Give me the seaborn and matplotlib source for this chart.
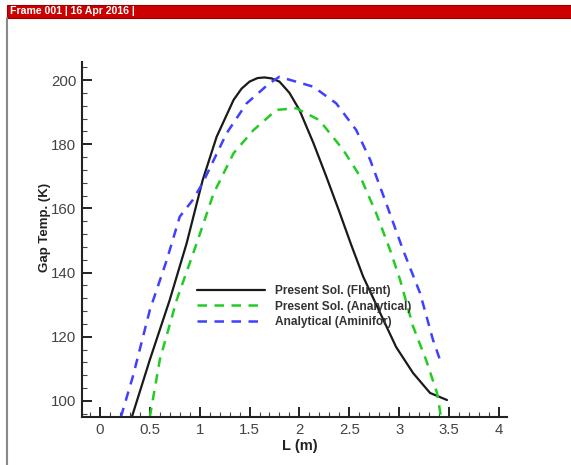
import numpy as np
import pandas as pd
import matplotlib
matplotlib.use("Agg")
import matplotlib.pyplot as plt
import seaborn as sns
from matplotlib.patches import Rectangle
from matplotlib.lines import Line2D

# ==========================================
# Data
# ==========================================
fluent_x = [0.32, 0.50, 0.70, 0.87, 1.03, 1.17, 1.34, 1.42, 1.50, 1.58, 1.65, 1.72,
            1.80, 1.90, 2.00, 2.14, 2.27, 2.40, 2.52, 2.64, 2.81, 2.97, 3.14, 3.31, 3.48]
fluent_y = [95.0, 112.8, 131.5, 149.2, 168.8, 182.3, 193.8, 197.3, 199.5, 200.6, 200.8, 200.5,
            199.5, 196.0, 190.7, 180.4, 169.9, 159.0, 148.6, 138.7, 127.4, 116.8, 108.7, 102.5, 100.3]

analytical_x = [0.50, 0.60, 0.77, 0.97, 1.14, 1.34, 1.54, 1.77, 1.97, 2.20,
                2.44, 2.61, 2.77, 2.91, 3.01, 3.14, 3.27, 3.38, 3.42]
analytical_y = [95.0, 112.8, 131.5, 149.1, 164.7, 177.2, 184.4, 190.7, 191.2, 187.5,
                178.2, 169.9, 158.5, 147.0, 137.7, 123.2, 112.8, 102.5, 95.0]

aminifor_x = [0.21, 0.33, 0.50, 0.67, 0.80, 0.93, 1.03, 1.27, 1.47, 1.70,
              1.80, 2.14, 2.37, 2.57, 2.71, 2.87, 3.04, 3.21, 3.34, 3.41]
aminifor_y = [95.0, 107.6, 128.3, 143.9, 157.4, 162.6, 167.9, 183.4, 192.7, 199.0,
              201.0, 197.9, 192.7, 184.4, 175.1, 161.6, 147.0, 133.6, 119.0, 112.8]

labels = ["Present Sol. (Fluent)", "Present Sol. (Analytical)", "Analytical (Aminifor)"]
x_ticks = [0, 0.5, 1, 1.5, 2, 2.5, 3, 3.5, 4]
x_tick_labels = ["0", "0.5", "1", "1.5", "2", "2.5", "3", "3.5", "4"]
y_ticks = [100, 120, 140, 160, 180, 200]

# ==========================================
# Figure
# ==========================================
sns.set_style("white")
plt.rcParams["font.family"] = ["Liberation Sans", "DejaVu Sans"]

fig = plt.figure(figsize=(5.71, 4.65), dpi=100)
ax = fig.add_axes([0.1436, 0.1032, 0.744, 0.7634])

df_f = pd.DataFrame({"L": fluent_x, "T": fluent_y})
df_a = pd.DataFrame({"L": analytical_x, "T": analytical_y})
df_m = pd.DataFrame({"L": aminifor_x, "T": aminifor_y})

sns.lineplot(data=df_f, x="L", y="T", ax=ax, color="#1a1a1a", linewidth=1.6,
             sort=False, estimator=None, label=labels[0])
sns.lineplot(data=df_a, x="L", y="T", ax=ax, color="#22cc22", linewidth=1.8,
             linestyle=(0, (3.8, 3)), sort=False, estimator=None, label=labels[1])
sns.lineplot(data=df_m, x="L", y="T", ax=ax, color="#4040ff", linewidth=1.8,
             linestyle=(0, (3.8, 3)), sort=False, estimator=None, label=labels[2])

ax.set_xlim(-0.18, 4.08)
ax.set_ylim(95, 205.6)
ax.set_xticks(x_ticks)
ax.set_xticklabels(x_tick_labels)
ax.set_yticks(y_ticks)
ax.set_xticks(np.arange(-0.1, 4.05, 0.1), minor=True)
ax.set_yticks(np.arange(96, 205, 4), minor=True)

for s in ["top", "right"]:
    ax.spines[s].set_visible(False)
for s in ["left", "bottom"]:
    ax.spines[s].set_color("#222222")
    ax.spines[s].set_linewidth(1.5)

ax.tick_params(which="major", direction="in", length=7, width=1.4, color="#222222",
               labelsize=10.8, labelcolor="#444444", pad=4,
               bottom=True, left=True)
ax.tick_params(which="minor", direction="in", length=3.5, width=0.8, color="#444444",
               bottom=True, left=True)

ax.set_xlabel("L (m)", fontsize=10.5, fontweight="bold", color="#222222")
ax.set_ylabel("Gap Temp. (K)", fontsize=9.5, fontweight="bold", color="#222222")
ax.xaxis.set_label_coords(0.513, -0.063)
ax.yaxis.set_label_coords(-0.072, 0.535)

leg = ax.legend(loc="upper left", bbox_to_anchor=(0.27, 0.372), frameon=False,
                fontsize=8.6, handlelength=5.7, handletextpad=0.85, labelspacing=0.3,
                borderpad=0, borderaxespad=0)
for t in leg.get_texts():
    t.set_fontweight("bold")
    t.set_color("#333333")

# frame header bar
fig.patches.append(Rectangle((7 / 571, 1 - 18 / 465), 1, 13 / 465, transform=fig.transFigure,
                             facecolor="#cc0000", edgecolor="#990000", linewidth=0.8))
fig.text(10 / 571, 1 - 11.5 / 465, "Frame 001 | 16 Apr 2016 |", color="white",
         fontsize=7.6, fontweight="bold", va="center", ha="left")
fig.add_artist(Line2D([7 / 571, 7 / 571], [0, 1 - 18 / 465], transform=fig.transFigure,
                      color="#888888", linewidth=1.5))

plt.savefig("out.png", dpi=100)
